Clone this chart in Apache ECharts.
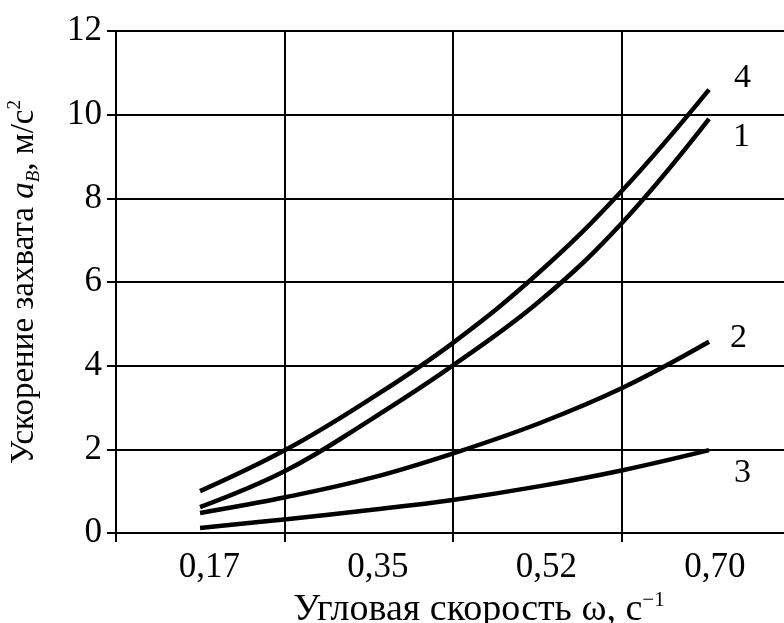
<!DOCTYPE html>
<html>
<head>
<meta charset="utf-8">
<script src="https://cdn.jsdelivr.net/npm/echarts@6/dist/echarts.min.js"></script>
<style>html,body{margin:0;padding:0;background:#fff}#c{width:784px;height:623px}</style>
</head>
<body>
<div id="c"></div>
<script>
var xTickLabels = ['0,17', '0,35', '0,52', '0,70'];
var omega = [0.17, 0.26, 0.347, 0.433, 0.524, 0.61, 0.70];
var curve4 = [1.0, 2.0, 3.2, 4.54, 6.25, 8.2, 10.6];
var curve1 = [0.62, 1.5, 2.7, 4.0, 5.55, 7.43, 9.9];
var curve2 = [0.48, 0.86, 1.31, 1.9, 2.63, 3.47, 4.57];
var curve3 = [0.12, 0.33, 0.55, 0.79, 1.12, 1.5, 1.98];
var curveNames = ['4', '1', '2', '3'];

function pairs(ys) { return omega.map(function (x, i) { return [x, ys[i]]; }); }

var FONT = 'Liberation Serif';
var chart = echarts.init(document.getElementById('c'));
var offsets = [[17, -11], [16, 18], [13, -4], [17, 23]];
var series = [curve4, curve1, curve2, curve3].map(function (ys, k) {
  return {
    type: 'line', xAxisIndex: 1, yAxisIndex: 0, smooth: 0.4, showSymbol: false,
    data: pairs(ys), lineStyle: { color: '#000', width: 4.5 }, silent: true,
    endLabel: { show: true, formatter: curveNames[k], offset: offsets[k],
      fontFamily: FONT, fontSize: 34, color: '#000' }
  };
});

chart.setOption({
  animation: false,
  grid: { left: 116, right: -6, top: 31, bottom: 90, containLabel: false, outerBoundsMode: 'none' },
  xAxis: [
    {
      type: 'category', data: xTickLabels, boundaryGap: true,
      axisLine: { show: true, lineStyle: { color: '#000', width: 2 } },
      axisTick: { show: true, interval: 0, length: 9, lineStyle: { color: '#000', width: 2 } },
      splitLine: { show: true, interval: 0, lineStyle: { color: '#000', width: 2 } },
      axisLabel: { fontFamily: FONT, fontSize: 35, color: '#000', margin: 17, padding: [0, 0, 0, 18] },
      name: '{n|Угловая скорость ω, с}{sup|−1}',
      nameLocation: 'middle', nameGap: 53,
      nameTextStyle: {
        padding: [0, 0, 0, 52],
        rich: {
          n: { fontFamily: FONT, fontSize: 38, color: '#000' },
          sup: { fontFamily: FONT, fontSize: 21, color: '#000', verticalAlign: 'top', padding: [0, 0, 20, 0] }
        }
      }
    },
    { type: 'value', min: 0.0825, max: 0.7843, show: false }
  ],
  yAxis: [{
    type: 'value', min: 0, max: 12, interval: 2,
    axisLine: { show: true, lineStyle: { color: '#000', width: 2 } },
    axisTick: { show: true, length: 9, lineStyle: { color: '#000', width: 2 } },
    splitLine: { show: true, lineStyle: { color: '#000', width: 2 } },
    axisLabel: { fontFamily: FONT, fontSize: 35, color: '#000', margin: 14 },
    name: '{n|Ускорение захвата }{i|a}{sub|B}{n|, м/с}{sup|2}',
    nameLocation: 'middle', nameGap: 73,
    nameTextStyle: {
      rich: {
        n: { fontFamily: FONT, fontSize: 33, color: '#000' },
        i: { fontFamily: FONT, fontSize: 33, fontStyle: 'italic', color: '#000' },
        sub: { fontFamily: FONT, fontSize: 19, fontStyle: 'italic', color: '#000', verticalAlign: 'bottom', padding: [8, 0, 0, 0] },
        sup: { fontFamily: FONT, fontSize: 19, color: '#000', verticalAlign: 'top', padding: [0, 0, 18, 0] }
      }
    }
  }],
  series: series
});
</script>
</body>
</html>
